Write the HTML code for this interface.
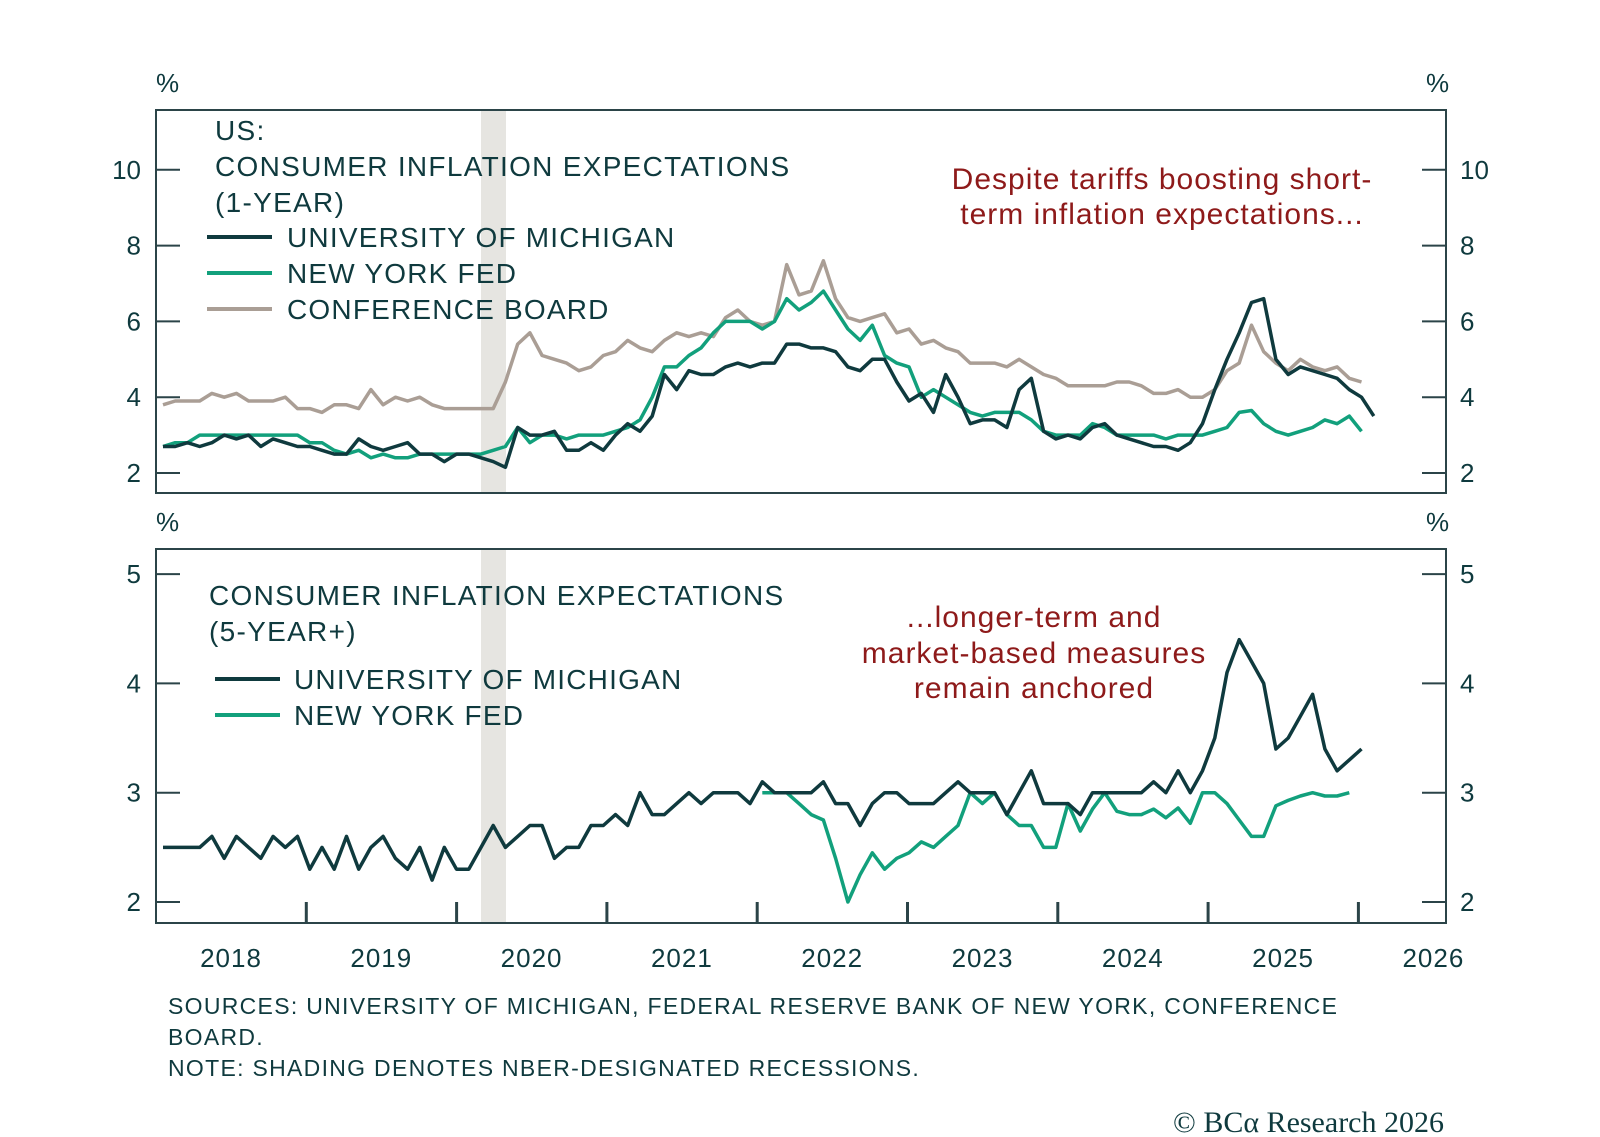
<!DOCTYPE html>
<html><head><meta charset="utf-8">
<style>
html,body{margin:0;padding:0;background:#fff;}
svg{display:block;font-family:"Liberation Sans",sans-serif;}
</style></head>
<body>
<svg id="chart" width="1600" height="1137" viewBox="0 0 1600 1137">
</svg>
<script>
const xStart = 163, xStep = 12.23;
const mich1 = [2.7,2.7,2.8,2.7,2.8,3.0,2.9,3.0,2.7,2.9,2.8,2.7, 2.7,2.6,2.5,2.5,2.9,2.7,2.6,2.7,2.8,2.5,2.5,2.3, 2.5,2.5,2.4,2.3,2.15,3.2,3.0,3.0,3.1,2.6,2.6,2.8, 2.6,3.0,3.3,3.1,3.5,4.6,4.2,4.7,4.6,4.6,4.8,4.9, 4.8,4.9,4.9,5.4,5.4,5.3,5.3,5.2,4.8,4.7,5.0,5.0, 4.4,3.9,4.1,3.6,4.6,4.0,3.3,3.4,3.4,3.2,4.2,4.5, 3.1,2.9,3.0,2.9,3.2,3.3,3.0,2.9,2.8,2.7,2.7,2.6, 2.8,3.3,4.2,5.0,5.7,6.5,6.6,5.0,4.6,4.8,4.7,4.6,4.5,4.2,4.0,3.5];
const nyfed1 = [2.7,2.8,2.8,3.0,3.0,3.0,3.0,3.0,3.0,3.0,3.0,3.0, 2.8,2.8,2.6,2.5,2.6,2.4,2.5,2.4,2.4,2.5,2.5,2.5, 2.5,2.5,2.5,2.6,2.7,3.2,2.8,3.0,3.0,2.9,3.0,3.0, 3.0,3.1,3.2,3.4,4.0,4.8,4.8,5.1,5.3,5.7,6.0,6.0, 6.0,5.8,6.0,6.6,6.3,6.5,6.8,6.3,5.8,5.5,5.9,5.1, 4.9,4.8,4.0,4.2,4.0,3.8,3.6,3.5,3.6,3.6,3.6,3.4, 3.1,3.0,3.0,3.0,3.3,3.2,3.0,3.0,3.0,3.0,2.9,3.0, 3.0,3.0,3.1,3.2,3.6,3.65,3.3,3.1,3.0,3.1,3.2,3.4,3.3,3.5,3.1];
const conf1 = [3.8,3.9,3.9,3.9,4.1,4.0,4.1,3.9,3.9,3.9,4.0,3.7, 3.7,3.6,3.8,3.8,3.7,4.2,3.8,4.0,3.9,4.0,3.8,3.7, 3.7,3.7,3.7,3.7,4.4,5.4,5.7,5.1,5.0,4.9,4.7,4.8, 5.1,5.2,5.5,5.3,5.2,5.5,5.7,5.6,5.7,5.6,6.1,6.3, 6.0,5.9,6.0,7.5,6.7,6.8,7.6,6.6,6.1,6.0,6.1,6.2, 5.7,5.8,5.4,5.5,5.3,5.2,4.9,4.9,4.9,4.8,5.0,4.8, 4.6,4.5,4.3,4.3,4.3,4.3,4.4,4.4,4.3,4.1,4.1,4.2, 4.0,4.0,4.2,4.7,4.9,5.9,5.2,4.9,4.7,5.0,4.8,4.7,4.8,4.5,4.4];
const mich5 = [2.5,2.5,2.5,2.5,2.6,2.4,2.6,2.5,2.4,2.6,2.5,2.6, 2.3,2.5,2.3,2.6,2.3,2.5,2.6,2.4,2.3,2.5,2.2,2.5, 2.3,2.3,2.5,2.7,2.5,2.6,2.7,2.7,2.4,2.5,2.5,2.7, 2.7,2.8,2.7,3.0,2.8,2.8,2.9,3.0,2.9,3.0, 3.0,3.0,2.9,3.1,3.0,3.0,3.0,3.0,3.1,2.9,2.9,2.7,2.9,3.0, 3.0,2.9,2.9,2.9,3.0,3.1,3.0,3.0,3.0,2.8,3.0,3.2, 2.9,2.9,2.9,2.8,3.0,3.0,3.0,3.0,3.0,3.1,3.0,3.2, 3.0,3.2,3.5,4.1,4.4,4.2,4.0,3.4,3.5,3.7,3.9,3.4,3.2,3.3,3.4];
const nyfed5Start = 49;
const nyfed5 = [3.0,3.0,3.0,2.9,2.8,2.75,2.4,2.0,2.25,2.45,2.3,2.4,2.45,2.55,2.5,2.6,2.7,3.0,2.9,3.0,2.8,2.7,2.7,2.5,2.5,2.9,2.65,2.85,3.0,2.83,2.8,2.8,2.85,2.77,2.86,2.72,3.0,3.0,2.9,2.75,2.6,2.6,2.88,2.93,2.97,3.0,2.97,2.97,3.0];
const topTicks = [2,4,6,8,10];
const botTicks = [2,3,4,5];
const yearLabels = ["2018","2019","2020","2021","2022","2023","2024","2025","2026"];

const NS="http://www.w3.org/2000/svg";
const svg=document.getElementById('chart');
function mk(tag,attrs,parent){const e=document.createElementNS(NS,tag);for(const k in attrs)e.setAttribute(k,attrs[k]);(parent||svg).appendChild(e);return e;}
const DARK="#0f3a3e", GREEN="#12a07c", TAUPE="#aa9e95", RED="#8e1a1a", AX="#2b4448";
const L=156,R=1446;
const T1=110,B1=493, T2=549,B2=923;
const yTop=v=>473-(v-2)*37.9;
const yBot=v=>902-(v-2)*109.3;
const xIdx=i=>xStart+i*xStep;
const yearX=k=>156+k*150.3;

let r=mk('rect',{x:481,y:T1,width:25,height:B1-T1,fill:"#e6e5e1"});


r=mk('rect',{x:481,y:T2,width:25,height:B2-T2,fill:"#e6e5e1"});



function panel(T,B,ticks,yf,name){
  const f=mk('rect',{x:L,y:T,width:R-L,height:B-T,fill:"none",stroke:AX,"stroke-width":2});
  
  
  ticks.forEach(v=>{
    const y=yf(v);
    mk('line',{x1:L,x2:L+24,y1:y,y2:y,stroke:AX,"stroke-width":2});
    mk('line',{x1:R-24,x2:R,y1:y,y2:y,stroke:AX,"stroke-width":2});
    const t1=mk('text',{x:141,y:y+9,"text-anchor":"end","font-size":26,fill:DARK});t1.textContent=v;
    
    
    const t2=mk('text',{x:1460,y:y+9,"font-size":26,fill:DARK});t2.textContent=v;
    
    
  });
  const p1=mk('text',{x:156,y:T-18,"font-size":26,fill:DARK});p1.textContent="%";
  
  
  const p2=mk('text',{x:1426,y:T-18,"font-size":26,fill:DARK});p2.textContent="%";
  
  
}
panel(T1,B1,topTicks,yTop,'top-panel');
panel(T2,B2,botTicks,yBot,'bottom-panel');

for(let k=1;k<yearLabels.length;k++){
  mk('line',{x1:yearX(k),x2:yearX(k),y1:B2-21,y2:B2,stroke:AX,"stroke-width":3});
}
yearLabels.forEach((lab,k)=>{
  const t=mk('text',{x:yearX(k)+75,y:967,"text-anchor":"middle","font-size":26,fill:DARK,"letter-spacing":1});
  t.textContent=lab;
  
  
});

function line(data,yf,color,name,start){
  start=start||0;
  const pts=data.map((v,i)=>xIdx(i+start).toFixed(1)+","+yf(v).toFixed(1)).join(" ");
  const p=mk('polyline',{points:pts,fill:"none",stroke:color,"stroke-width":3.5,"stroke-linejoin":"round"});
  
  
}
line(conf1,yTop,TAUPE,'conference-board-1y-line');
line(nyfed1,yTop,GREEN,'ny-fed-1y-line');
line(mich1,yTop,DARK,'michigan-1y-line');
line(nyfed5,yBot,GREEN,'ny-fed-5y-line',nyfed5Start);
line(mich5,yBot,DARK,'michigan-5y-line');

function txt(s,x,y,size,color,name,anchor,family,ls){
  const t=mk('text',{x:x,y:y,"font-size":size,fill:color});
  if(anchor)t.setAttribute('text-anchor',anchor);
  if(family)t.setAttribute('font-family',family);
  if(ls)t.setAttribute('letter-spacing',ls);
  t.textContent=s;
  
  
  return t;
}
txt("US:",215,140,28,DARK,'top-title-region',null,null,1.3);
txt("CONSUMER INFLATION EXPECTATIONS",215,176,28,DARK,'top-title',null,null,1.3);
txt("(1-YEAR)",215,212,28,DARK,'top-subtitle',null,null,1.3);
[[DARK,"UNIVERSITY OF MICHIGAN",237,'legend-michigan-top'],[GREEN,"NEW YORK FED",273,'legend-nyfed-top'],[TAUPE,"CONFERENCE BOARD",309,'legend-conference-board']].forEach(d=>{
  mk('line',{x1:207,x2:272,y1:d[2],y2:d[2],stroke:d[0],"stroke-width":4});
  txt(d[1],287,d[2]+10,28,DARK,d[3],null,null,1.2);
});
txt("Despite tariffs boosting short-",1162,189,30,RED,'annotation-top-line1','middle',null,1);
txt("term inflation expectations...",1162,224,30,RED,'annotation-top-line2','middle',null,1);

txt("CONSUMER INFLATION EXPECTATIONS",209,605,28,DARK,'bottom-title',null,null,1.3);
txt("(5-YEAR+)",209,641,28,DARK,'bottom-subtitle',null,null,1.3);
[[DARK,"UNIVERSITY OF MICHIGAN",679,'legend-michigan-bottom'],[GREEN,"NEW YORK FED",715,'legend-nyfed-bottom']].forEach(d=>{
  mk('line',{x1:215,x2:280,y1:d[2],y2:d[2],stroke:d[0],"stroke-width":4});
  txt(d[1],294,d[2]+10,28,DARK,d[3],null,null,1.2);
});
txt("...longer-term and",1034,627,30,RED,'annotation-bottom-line1','middle',null,1);
txt("market-based measures",1034,663,30,RED,'annotation-bottom-line2','middle',null,1);
txt("remain anchored",1034,698,30,RED,'annotation-bottom-line3','middle',null,1);

txt("SOURCES: UNIVERSITY OF MICHIGAN, FEDERAL RESERVE BANK OF NEW YORK, CONFERENCE",168,1014,23,DARK,'sources-note-line1',null,null,1.3);
txt("BOARD.",168,1045,23,DARK,'sources-note-line2',null,null,1.3);
txt("NOTE: SHADING DENOTES NBER-DESIGNATED RECESSIONS.",168,1076,23,DARK,'shading-note',null,null,1.3);
txt("© BCα Research 2026",1444,1132,30,DARK,'copyright','end','"Liberation Serif",serif');
</script>
</body></html>
